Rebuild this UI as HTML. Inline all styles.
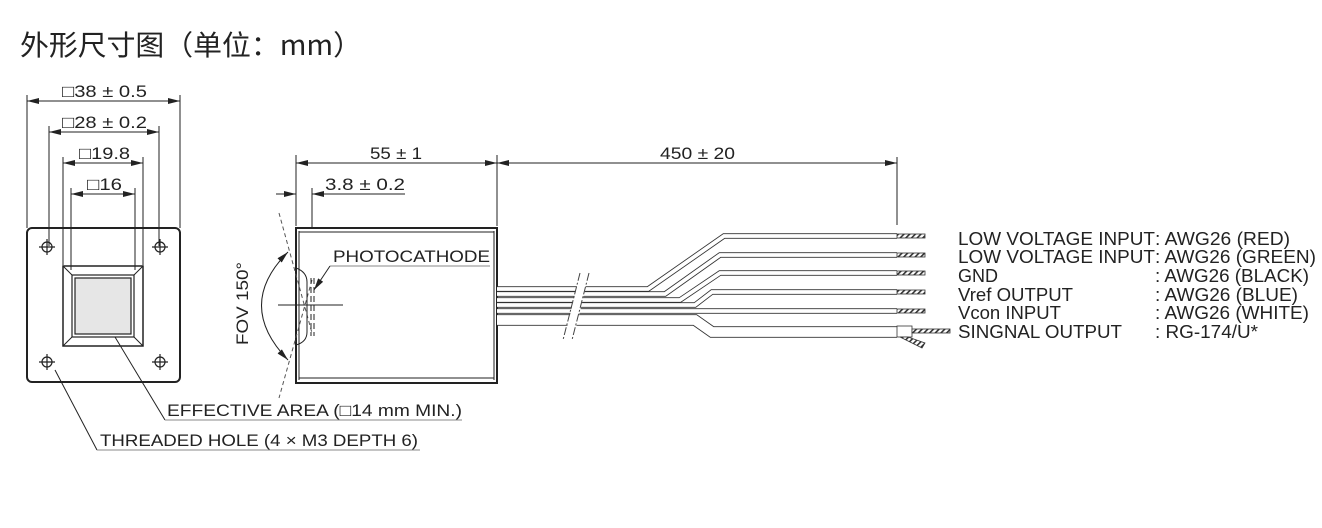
<!DOCTYPE html>
<html><head><meta charset="utf-8"><style>
html,body{margin:0;padding:0;background:#fff;width:1322px;height:528px;overflow:hidden}
svg{display:block}
text{font-family:"Liberation Sans","Noto Sans CJK SC",sans-serif;fill:#222}
</style></head><body>
<svg width="1322" height="528" viewBox="0 0 1322 528" xmlns="http://www.w3.org/2000/svg">
<defs>
<marker id="a" markerWidth="12" markerHeight="6" refX="12" refY="3" orient="auto-start-reverse" markerUnits="userSpaceOnUse"><path d="M0,0 L12,3 L0,6 z" fill="#222"/></marker>
<pattern id="h" width="4" height="4" patternUnits="userSpaceOnUse" patternTransform="rotate(45)"><rect width="4" height="4" fill="#fff"/><rect width="1.6" height="4" fill="#333"/></pattern>
</defs>
<text x="20" y="55" font-size="28" textLength="342" lengthAdjust="spacingAndGlyphs" style="font-family:'Noto Sans CJK SC','Liberation Sans',sans-serif">外形尺寸图（单位：mm）</text>
<g stroke="#222" stroke-width="1" fill="none">
<line x1="27" y1="95" x2="27" y2="228"/><line x1="180" y1="95" x2="180" y2="228"/>
<line x1="49" y1="126" x2="49" y2="246"/><line x1="159" y1="126" x2="159" y2="246"/>
<line x1="63" y1="157" x2="63" y2="265"/><line x1="143" y1="157" x2="143" y2="265"/>
<line x1="71" y1="188" x2="71" y2="270"/><line x1="135" y1="188" x2="135" y2="270"/>
<line x1="27" y1="101" x2="180" y2="101" marker-start="url(#a)" marker-end="url(#a)"/>
<line x1="49" y1="132" x2="159" y2="132" marker-start="url(#a)" marker-end="url(#a)"/>
<line x1="63" y1="163" x2="143" y2="163" marker-start="url(#a)" marker-end="url(#a)"/>
<line x1="71" y1="194" x2="135" y2="194" marker-start="url(#a)" marker-end="url(#a)"/>
<rect x="27" y="228" width="153" height="154" rx="5" stroke-width="2"/>
<g stroke-width="1.2">
<circle cx="47" cy="247" r="5"/><circle cx="160" cy="247" r="5"/><circle cx="47" cy="362" r="5"/><circle cx="160" cy="362" r="5"/>
<path d="M39,247h16M47,239v16M152,247h16M160,239v16M39,362h16M47,354v16M152,362h16M160,354v16"/>
</g>
<rect x="63" y="266" width="80" height="80" stroke-width="1.5"/>
<rect x="72" y="275" width="62" height="62" stroke-width="1.2"/>
<rect x="75" y="278" width="56" height="56" fill="#e6e6e6" stroke-width="1.2"/>
<path d="M63,266L72,275M143,266L134,275M63,346L72,337M143,346L134,337"/>
<line x1="115" y1="337" x2="165" y2="420"/><line x1="165" y1="420" x2="462" y2="420" stroke="#888"/>
<line x1="55" y1="370" x2="97" y2="450"/><line x1="97" y1="450" x2="420" y2="450" stroke="#888"/>
<rect x="296" y="228" width="201" height="155" stroke-width="2"/>
<path d="M299,231v149M494,231v149M299,232h195M299,378h195" stroke-width="1"/>
<line x1="296" y1="155" x2="296" y2="226"/><line x1="497" y1="155" x2="497" y2="226"/>
<line x1="897" y1="157" x2="897" y2="225"/>
<line x1="296" y1="163" x2="497" y2="163" marker-start="url(#a)" marker-end="url(#a)"/>
<line x1="497" y1="163" x2="897" y2="163" marker-start="url(#a)" marker-end="url(#a)"/>
<line x1="312" y1="188" x2="312" y2="228"/>
<line x1="276" y1="194" x2="296" y2="194" marker-end="url(#a)"/>
<line x1="405" y1="194" x2="312" y2="194" marker-end="url(#a)"/>
<line x1="279" y1="213" x2="312" y2="333" stroke-dasharray="4,3" stroke="#555"/>
<line x1="312" y1="280" x2="279" y2="398" stroke-dasharray="4,3" stroke="#555"/>
<path d="M288,252 Q235,305 288,360" marker-start="url(#a)" marker-end="url(#a)"/>
<path d="M296,268 Q307,272 307,282 V332 Q307,342 296,345"/>
<line x1="311" y1="278" x2="311" y2="336" stroke-dasharray="6,3"/>
<line x1="314" y1="278" x2="314" y2="336" stroke-dasharray="6,3"/>
<line x1="278" y1="305" x2="343" y2="305"/>
<line x1="330" y1="266" x2="490" y2="266" stroke="#888"/>
<line x1="330" y1="266" x2="314" y2="290" marker-end="url(#a)"/>
</g>
<g fill="none" stroke-linejoin="miter">
<g stroke="#333" stroke-width="5.5">
<path d="M497,289 H648 L724,236 H897"/>
<path d="M497,294 H665 L720,255 H897"/>
<path d="M497,300 H680 L720,273 H897"/>
<path d="M497,305 H695 L712,292 H897"/>
<path d="M497,311 H897"/>
</g>
<g stroke="#fff" stroke-width="3.8">
<path d="M497,289 H648 L724,236 H897"/>
<path d="M497,294 H665 L720,255 H897"/>
<path d="M497,300 H680 L720,273 H897"/>
<path d="M497,305 H695 L712,292 H897"/>
<path d="M497,311 H897"/>
</g>
<path d="M497,320 H695 L712,332 H897" stroke="#333" stroke-width="11.5"/>
<path d="M497,320 H695 L712,332 H897" stroke="#fff" stroke-width="9.8"/>
</g>
<g stroke="#333" stroke-width="0.8">
<rect x="897" y="234" width="28" height="4" fill="url(#h)"/>
<rect x="897" y="253" width="28" height="4" fill="url(#h)"/>
<rect x="897" y="271" width="28" height="4" fill="url(#h)"/>
<rect x="897" y="290" width="28" height="4" fill="url(#h)"/>
<rect x="897" y="309" width="28" height="4" fill="url(#h)"/>
<rect x="897" y="326" width="15" height="11" fill="#fff"/>
<rect x="912" y="329" width="38" height="4" fill="url(#h)"/>
<polygon points="900,337 908,337 925,343 922,348" fill="url(#h)"/>
</g>
<polygon points="579,278 588,278 573,340 564,340" fill="#fff"/>
<g stroke="#444" stroke-width="1" stroke-dasharray="8,2,2,2">
<line x1="580" y1="273" x2="563" y2="340"/><line x1="589" y1="273" x2="572" y2="340"/>
</g>
<g font-size="17" lengthAdjust="spacingAndGlyphs">
<text x="62" y="97" textLength="85" lengthAdjust="spacingAndGlyphs">□38 ± 0.5</text>
<text x="62" y="128" textLength="85" lengthAdjust="spacingAndGlyphs">□28 ± 0.2</text>
<text x="79" y="159" textLength="51" lengthAdjust="spacingAndGlyphs">□19.8</text>
<text x="87" y="190" textLength="35" lengthAdjust="spacingAndGlyphs">□16</text>
<text x="370" y="159" textLength="52" lengthAdjust="spacingAndGlyphs">55 ± 1</text>
<text x="660" y="159" textLength="75" lengthAdjust="spacingAndGlyphs">450 ± 20</text>
<text x="325" y="190" textLength="80" lengthAdjust="spacingAndGlyphs">3.8  ± 0.2</text>
<text x="333" y="262" textLength="157" lengthAdjust="spacingAndGlyphs">PHOTOCATHODE</text>
<text x="167" y="416" textLength="295" lengthAdjust="spacingAndGlyphs">EFFECTIVE AREA (□14 mm MIN.)</text>
<text x="100" y="446" textLength="318" lengthAdjust="spacingAndGlyphs">THREADED HOLE (4 × M3 DEPTH 6)</text>
<text transform="translate(248,345) rotate(-90)" textLength="83" lengthAdjust="spacingAndGlyphs">FOV 150°</text>
</g>
<g font-size="18">
<text x="958" y="245" textLength="197" lengthAdjust="spacingAndGlyphs">LOW VOLTAGE INPUT</text><text x="1155" y="245" textLength="135" lengthAdjust="spacingAndGlyphs">: AWG26 (RED)</text>
<text x="958" y="263" textLength="197" lengthAdjust="spacingAndGlyphs">LOW VOLTAGE INPUT</text><text x="1155" y="263" textLength="161" lengthAdjust="spacingAndGlyphs">: AWG26 (GREEN)</text>
<text x="958" y="282" textLength="40" lengthAdjust="spacingAndGlyphs">GND</text><text x="1155" y="282" textLength="154" lengthAdjust="spacingAndGlyphs">: AWG26 (BLACK)</text>
<text x="958" y="301" textLength="115" lengthAdjust="spacingAndGlyphs">Vref OUTPUT</text><text x="1155" y="301" textLength="143" lengthAdjust="spacingAndGlyphs">: AWG26 (BLUE)</text>
<text x="958" y="319" textLength="103" lengthAdjust="spacingAndGlyphs">Vcon INPUT</text><text x="1155" y="319" textLength="154" lengthAdjust="spacingAndGlyphs">: AWG26 (WHITE)</text>
<text x="958" y="338" textLength="164" lengthAdjust="spacingAndGlyphs">SINGNAL OUTPUT</text><text x="1155" y="338" textLength="103" lengthAdjust="spacingAndGlyphs">: RG-174/U*</text>
</g>
</svg>
</body></html>
